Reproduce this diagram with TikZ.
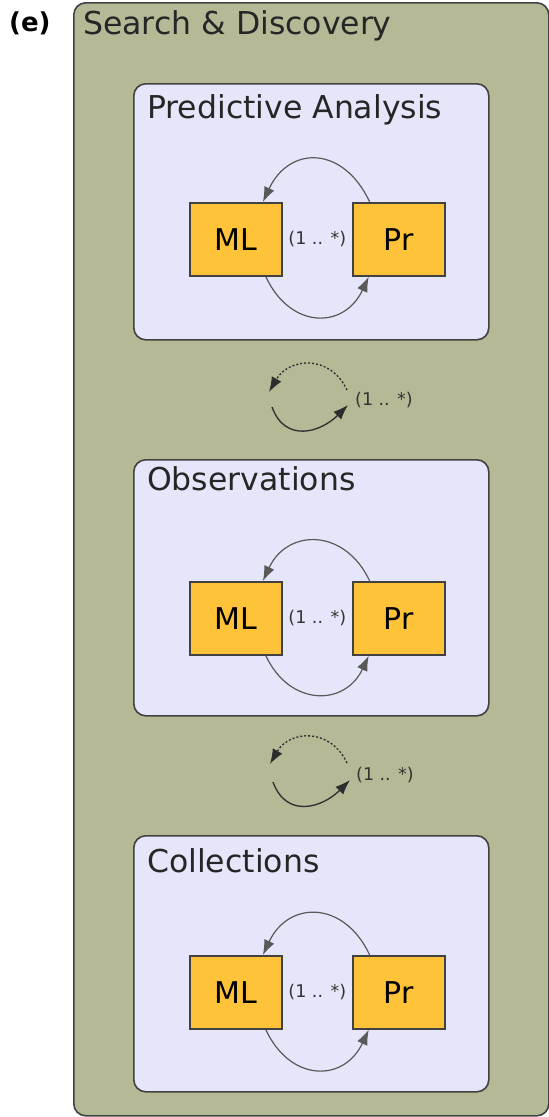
\documentclass[tikz,border=0pt]{standalone}
\usepackage{fontspec}
\setmainfont{DejaVu Sans}
\usetikzlibrary{positioning,arrows.meta,calc}

\definecolor{sdolive}{RGB}{181,185,150}
\definecolor{lavender}{RGB}{230,230,250}
\definecolor{amber}{RGB}{255,195,58}
\definecolor{edge}{RGB}{65,65,65}

\begin{document}
\begin{tikzpicture}[
  x=1pt,y=-1pt,
  group/.style={draw=edge,line width=1.6pt,rounded corners=12pt,anchor=north west,inner sep=0pt},
  outer/.style={group,fill=sdolive,minimum width=475pt,minimum height=1113pt},
  panel/.style={group,fill=lavender,minimum width=355pt,minimum height=256pt},
  title/.style={anchor=base west,inner sep=0pt,text=black!85,font=\fontsize{31.5}{36}\selectfont},
  entity/.style={draw=edge,line width=1.8pt,fill=amber,minimum width=92pt,minimum height=73pt,inner sep=0pt,font=\fontsize{30}{34}\selectfont},
  mult/.style={inner sep=0pt,text=black!80,font=\fontsize{17.5}{20}\selectfont},
  link/.style={-{Latex[length=15pt,width=11pt]},draw=gray!70!black,line width=1.2pt},
  flow/.style={-{Latex[length=15pt,width=11pt]},draw=gray!35!black,line width=1.3pt},
  node distance=69pt
]
  \useasboundingbox (0,0) rectangle (549,1117);

  \node[outer] (sd) at (73,2) {};
  \node[anchor=base west,inner sep=0pt,font=\bfseries\fontsize{26}{30}\selectfont] (tag) at (9,31) {(e)};
  \node[title] (sdtitle) at (83,34) {Search \& Discovery};

  \node[panel] (pa) at (133,83) {};
  \node[title] (patitle) at (147,118) {Predictive Analysis};
  \node[entity,anchor=north west] (ml1) at (189,202) {ML};
  \node[entity,right=of ml1] (pr1) {Pr};
  \node[mult] (m1) at ($(ml1.east)!0.5!(pr1.west)$) {(1 .. *)};
  \draw[link] ([xshift=-29pt]pr1.north) to[out=115,in=65,looseness=1.5] ([xshift=27pt]ml1.north);
  \draw[link] ([xshift=30pt]ml1.south) to[out=-65,in=-115,looseness=1.45] ([xshift=-30pt]pr1.south);

  \coordinate (u1) at (347,390);
  \coordinate (v1) at (269,392);
  \coordinate (w1) at (272,407);
  \coordinate (z1) at (348,405);
  \draw[flow,dash pattern=on 2pt off 2pt] (u1) to[out=115,in=60,looseness=1.3] (v1);
  \draw[flow] (w1) to[out=-70,in=-135,looseness=1.3] (z1);
  \node[mult] (s1) at (384,400) {(1 .. *)};

  \node[panel] (ob) at (133,459) {};
  \node[title] (obtitle) at (147,490) {Observations};
  \node[entity,anchor=north west] (ml2) at (189,581) {ML};
  \node[entity,right=of ml2] (pr2) {Pr};
  \node[mult] (m2) at ($(ml2.east)!0.5!(pr2.west)$) {(1 .. *)};
  \draw[link] ([xshift=-29pt]pr2.north) to[out=115,in=65,looseness=1.4] ([xshift=27pt]ml2.north);
  \draw[link] ([xshift=30pt]ml2.south) to[out=-65,in=-115,looseness=1.4] ([xshift=-30pt]pr2.south);

  \coordinate (u2) at (347,763);
  \coordinate (v2) at (270,764);
  \coordinate (w2) at (273,782);
  \coordinate (z2) at (350,780);
  \draw[flow,dash pattern=on 2pt off 2pt] (u2) to[out=115,in=60,looseness=1.3] (v2);
  \draw[flow] (w2) to[out=-70,in=-135,looseness=1.3] (z2);
  \node[mult] (s2) at (385,775) {(1 .. *)};

  \node[panel] (co) at (133,835) {};
  \node[title] (cotitle) at (147,872) {Collections};
  \node[entity,anchor=north west] (ml3) at (189,955) {ML};
  \node[entity,right=of ml3] (pr3) {Pr};
  \node[mult] (m3) at ($(ml3.east)!0.5!(pr3.west)$) {(1 .. *)};
  \draw[link] ([xshift=-29pt]pr3.north) to[out=115,in=65,looseness=1.45] ([xshift=27pt]ml3.north);
  \draw[link] ([xshift=30pt]ml3.south) to[out=-65,in=-115,looseness=1.45] ([xshift=-30pt]pr3.south);
\end{tikzpicture}
\end{document}
